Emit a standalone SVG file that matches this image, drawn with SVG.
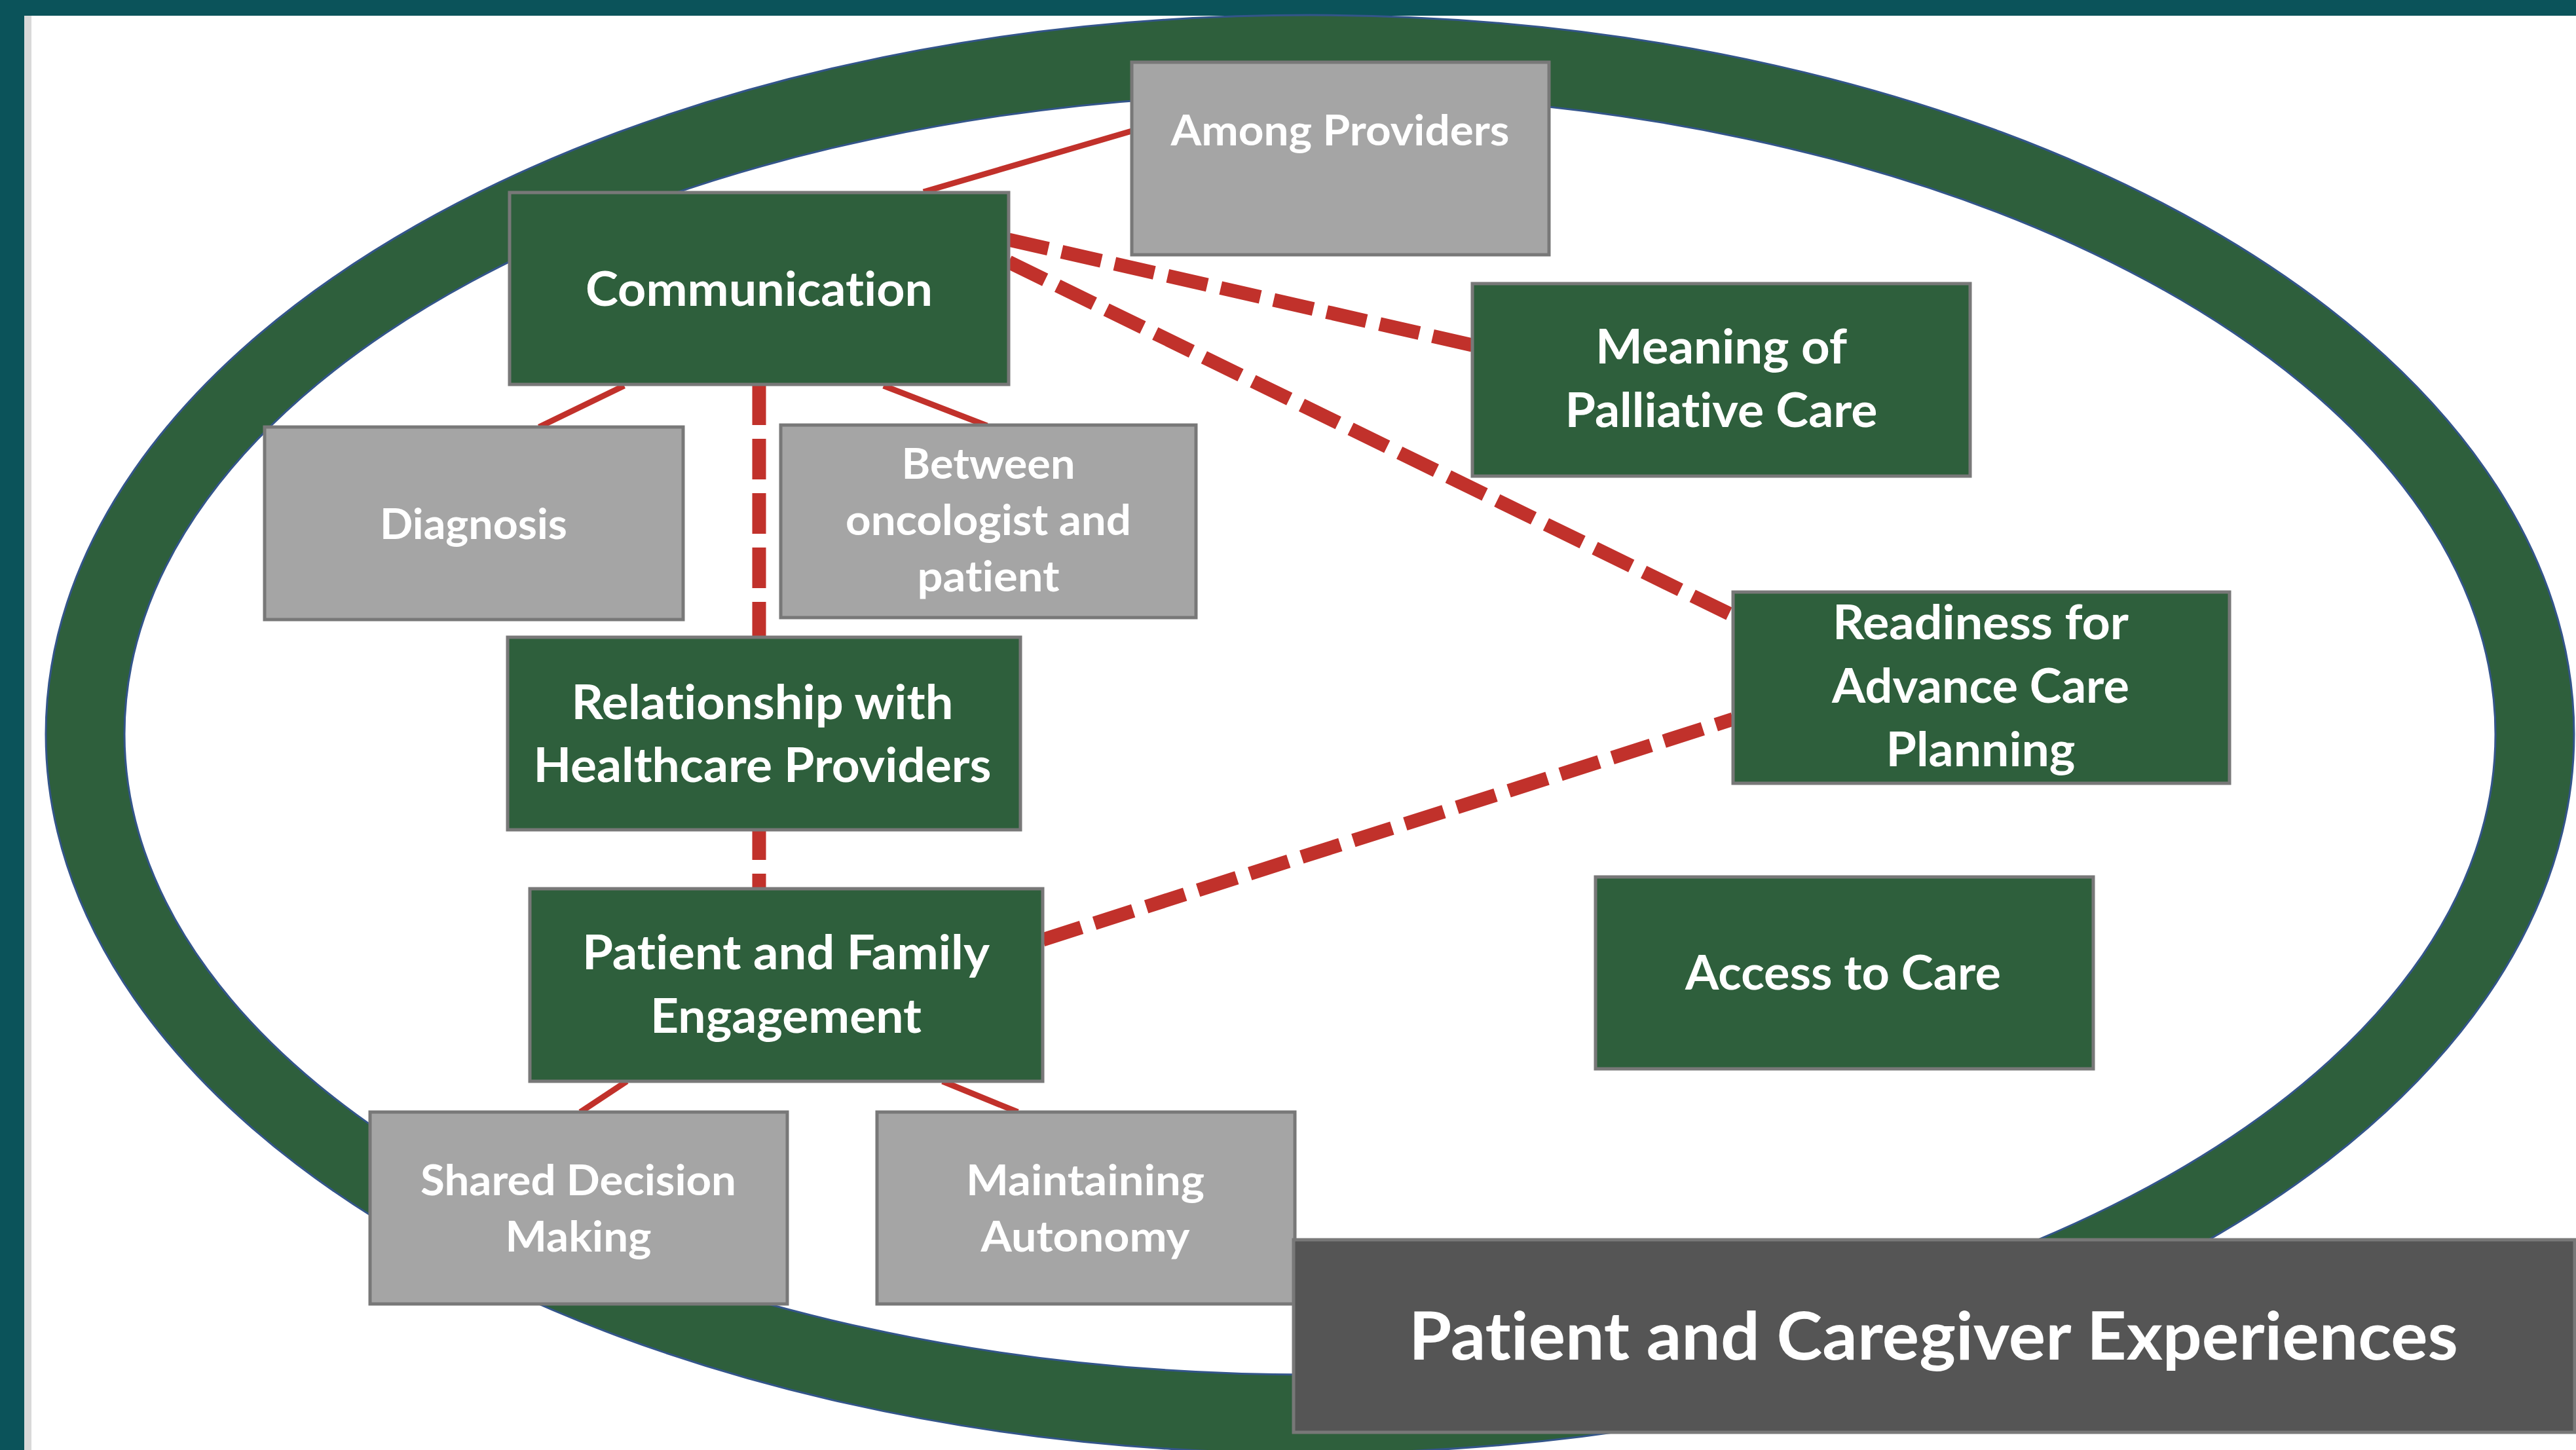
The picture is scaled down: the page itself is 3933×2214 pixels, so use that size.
<svg xmlns="http://www.w3.org/2000/svg" width="3933" height="2214" viewBox="0 0 3933 2214">
<style>
.g{fill:#2e5f3c;stroke:#787878;stroke-width:5}
.s{fill:#a5a5a5;stroke:#787878;stroke-width:5}
.d{fill:#555555;stroke:#787878;stroke-width:5}
text{font-family:Lato,"Open Sans","Liberation Sans",sans-serif;font-weight:700;fill:#ffffff;text-anchor:middle;font-variant-ligatures:none;font-feature-settings:"liga" 0}
.t80{font-size:72px}
.t72{font-size:65px}
.t113{font-size:102px}
.sol{stroke:#c1312b;stroke-width:9;fill:none}
.dash{stroke:#c1312b;stroke-width:21;fill:none;stroke-dasharray:62 21}
</style>
<rect x="0" y="0" width="3933" height="2214" fill="#ffffff"/>
<rect x="0" y="0" width="3933" height="24" fill="#0b535a"/>
<rect x="0" y="0" width="37" height="2214" fill="#0b535a"/>
<rect x="37" y="24" width="11" height="2190" fill="#d9d9d9"/>
<g id="ring">
<ellipse cx="2000" cy="1121" rx="1930" ry="1098" fill="#2e5f3c" stroke="#33558a" stroke-width="3"/>
<ellipse cx="2000" cy="1121" rx="1810" ry="978" fill="#ffffff" stroke="#33558a" stroke-width="3"/>
</g>
<g id="connectors">
<line class="sol" x1="1410" y1="293" x2="1728" y2="200"/>
<line class="sol" x1="953" y1="589" x2="823" y2="652"/>
<line class="sol" x1="1349" y1="589" x2="1507" y2="650"/>
<line class="sol" x1="957" y1="1651" x2="886" y2="1698"/>
<line class="sol" x1="1439" y1="1651" x2="1554" y2="1698"/>
<line class="dash" x1="1159" y1="587" x2="1159" y2="1357"/>
<line class="dash" x1="1540" y1="366" x2="2248" y2="527"/>
<line class="dash" x1="1540" y1="400" x2="2646" y2="940"/>
<line class="dash" x1="1592" y1="1435" x2="2646" y2="1098"/>
</g>
<g id="among-providers">
<rect class="s" x="1728" y="95" width="637" height="294"/>
<text class="t72" x="2046" y="222" textLength="517" lengthAdjust="spacingAndGlyphs">Among Providers</text>
</g>
<g id="communication">
<rect class="g" x="778" y="294" width="762" height="293"/>
<text class="t80" x="1159" y="467" textLength="530" lengthAdjust="spacingAndGlyphs">Communication</text>
</g>
<g id="meaning">
<rect class="g" x="2248" y="433" width="760" height="294"/>
<text class="t80" x="2628" y="555" textLength="384" lengthAdjust="spacingAndGlyphs">Meaning of</text>
<text class="t80" x="2628" y="652" textLength="477" lengthAdjust="spacingAndGlyphs">Palliative Care</text>
</g>
<g id="diagnosis">
<rect class="s" x="404" y="652" width="639" height="294"/>
<text class="t72" x="723" y="823" textLength="286" lengthAdjust="spacingAndGlyphs">Diagnosis</text>
</g>
<g id="between">
<rect class="s" x="1192" y="649" width="634" height="294"/>
<text class="t72" x="1509" y="731" textLength="265" lengthAdjust="spacingAndGlyphs">Between</text>
<text class="t72" x="1509" y="817" textLength="436" lengthAdjust="spacingAndGlyphs">oncologist and</text>
<text class="t72" x="1509" y="903" textLength="217" lengthAdjust="spacingAndGlyphs">patient</text>
</g>
<g id="relationship">
<rect class="g" x="775" y="973" width="783" height="294"/>
<text class="t80" x="1164" y="1098" textLength="583" lengthAdjust="spacingAndGlyphs">Relationship with</text>
<text class="t80" x="1164" y="1194" textLength="699" lengthAdjust="spacingAndGlyphs">Healthcare Providers</text>
</g>
<g id="patient-family">
<rect class="g" x="809" y="1357" width="783" height="294"/>
<text class="t80" x="1200" y="1480" textLength="622" lengthAdjust="spacingAndGlyphs">Patient and Family</text>
<text class="t80" x="1200" y="1577" textLength="414" lengthAdjust="spacingAndGlyphs">Engagement</text>
</g>
<g id="shared-decision">
<rect class="s" x="565" y="1698" width="637" height="293"/>
<text class="t72" x="883" y="1825" textLength="482" lengthAdjust="spacingAndGlyphs">Shared Decision</text>
<text class="t72" x="883" y="1911" textLength="223" lengthAdjust="spacingAndGlyphs">Making</text>
</g>
<g id="maintaining">
<rect class="s" x="1339" y="1698" width="638" height="293"/>
<text class="t72" x="1657" y="1825" textLength="364" lengthAdjust="spacingAndGlyphs">Maintaining</text>
<text class="t72" x="1657" y="1911" textLength="319" lengthAdjust="spacingAndGlyphs">Autonomy</text>
</g>
<g id="readiness">
<rect class="g" x="2646" y="904" width="758" height="292"/>
<text class="t80" x="3024" y="976" textLength="452" lengthAdjust="spacingAndGlyphs">Readiness for</text>
<text class="t80" x="3024" y="1073" textLength="454" lengthAdjust="spacingAndGlyphs">Advance Care</text>
<text class="t80" x="3024" y="1170" textLength="289" lengthAdjust="spacingAndGlyphs">Planning</text>
</g>
<g id="access">
<rect class="g" x="2436" y="1339" width="760" height="293"/>
<text class="t80" x="2814" y="1511" textLength="482" lengthAdjust="spacingAndGlyphs">Access to Care</text>
</g>
<g id="title">
<rect class="d" x="1975" y="1893" width="1956" height="294"/>
<text class="t113" x="2952" y="2076" textLength="1602" lengthAdjust="spacingAndGlyphs">Patient and Caregiver Experiences</text>
</g>
</svg>
